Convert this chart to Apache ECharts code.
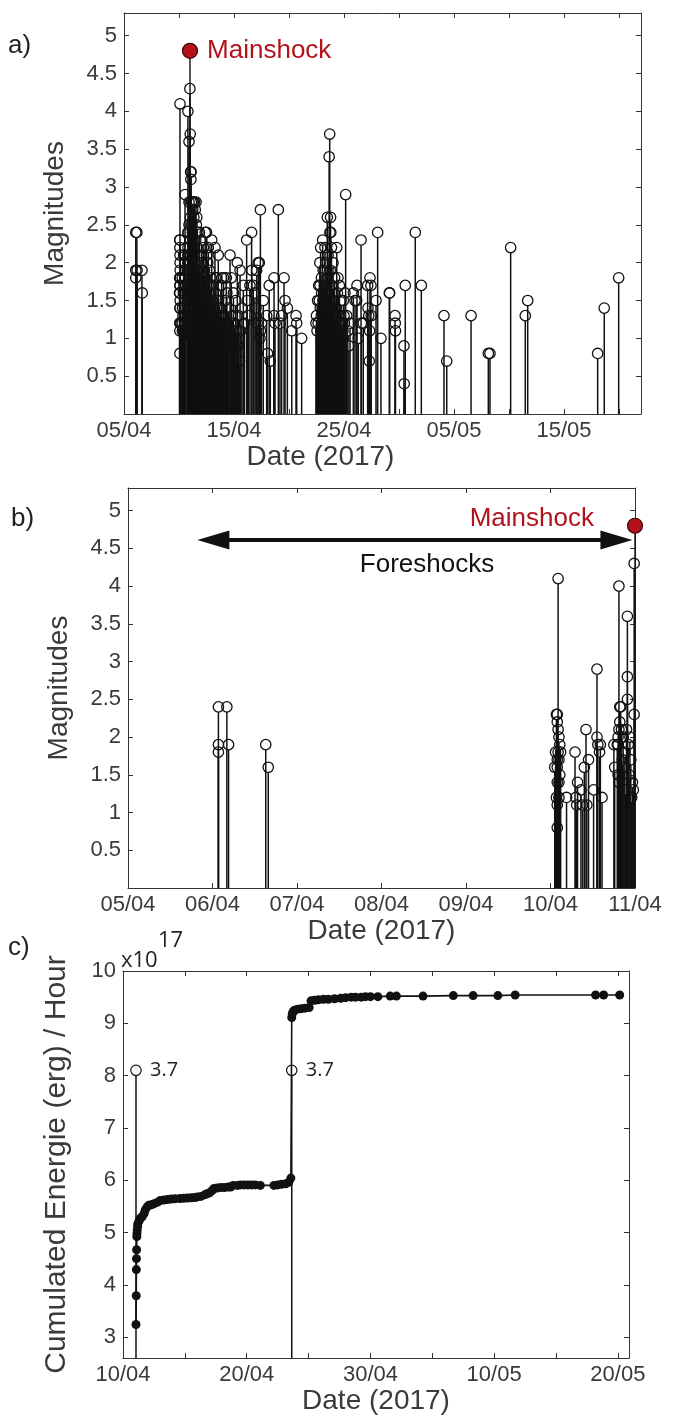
<!DOCTYPE html>
<html><head><meta charset="utf-8">
<script src="https://cdn.jsdelivr.net/npm/echarts@6/dist/echarts.min.js"></script>
<style>html,body{margin:0;padding:0;background:#fff}#chart{width:673px;height:1416px}</style>
</head><body><div id="chart"></div>
<script>
// ---------- DATA ----------
// Day numbers are counted from 1 April 2017 (05/04 = 5, 01/05 = 31 ...)
const quakeDay = [
  6.07,6.07,6.07,6.17,6.19,6.63,6.66,
  10.09,10.07,10.08,10.08,10.09,10.10,10.06,10.09,10.12,10.05,10.08,10.08,10.10,10.11,10.08,10.10,10.07,10.10,10.08,10.08,10.11,
  10.19,10.29,10.30,10.31,10.32,10.36,10.38,10.40,10.42,10.43,10.45,10.51,10.55,10.55,10.56,10.58,10.59,10.61,
  10.75,10.76,10.79,10.81,10.82,10.83,10.82,10.81,10.80,10.80,10.81,10.80,10.84,10.85,10.86,10.87,10.88,10.89,10.90,
  10.91,10.91,10.91,10.92,10.93,10.94,10.95,10.96,10.97,10.98,10.99,10.99,
  11.02,11.06,11.10,11.08,11.04,11.12,11.20,11.30,11.42,11.55,11.25,11.48,11.62,11.35,11.15,11.58,11.72,11.22,11.85,
  11.52,11.05,12.05,11.32,11.66,12.22,11.10,11.40,11.92,12.52,11.23,11.76,12.12,12.62,11.16,11.36,11.61,12.31,12.76,
  11.07,11.46,11.86,12.42,12.92,11.28,11.56,12.06,12.66,13.12,11.13,11.38,11.70,12.26,12.82,13.32,11.18,11.49,11.96,
  12.46,13.02,13.52,11.09,11.33,11.63,12.16,12.72,13.22,13.72,11.26,11.53,11.91,12.36,12.86,13.42,13.92,11.43,11.79,
  12.56,13.06,13.62,11.21,11.69,12.21,12.96,13.82,11.59,12.61,13.36,12.11,13.16,11.82,12.38,12.50,12.97,12.66,13.27,
  13.57,13.45,13.85,13.30,13.88,14.05,14.20,14.30,14.35,14.50,14.64,14.75,14.85,14.95,15.05,15.15,15.30,15.40,15.50,
  15.55,15.62,15.72,15.85,15.95,16.15,16.20,16.30,16.45,16.60,16.62,16.75,16.90,17.00,17.06,17.10,17.30,17.20,17.36,
  17.40,17.50,17.66,17.40,17.97,18.05,18.20,18.30,18.64,18.62,18.73,19.03,19.18,19.33,19.55,19.64,19.85,20.25,20.64,
  20.70,21.15,
  22.45,22.60,22.70,22.75,22.80,22.82,22.88,22.95,22.97,23.02,23.06,23.10,23.15,23.20,23.27,23.30,23.35,23.40,23.45,
  23.48,23.52,23.55,23.60,23.65,23.70,23.72,23.75,23.78,23.80,23.83,23.86,23.90,23.95,24.00,24.05,24.10,24.15,24.20,
  24.28,24.34,24.40,24.45,24.50,24.58,24.65,24.72,24.80,24.88,24.94,25.00,25.09,25.15,25.25,25.35,25.45,25.55,
  25.85,26.00,26.15,26.18,26.30,26.55,26.58,26.75,27.15,27.18,27.25,27.30,27.33,27.36,27.45,27.48,27.91,28.06,28.36,
  29.12,29.15,29.64,29.66,29.68,30.45,30.47,30.57,31.48,32.03,34.09,34.34,36.55,38.12,38.27,40.15,41.48,41.70,
  48.06,48.66,49.97
];
const quakeMag = [
  2.4,1.9,1.8,2.4,1.9,1.9,1.6,
  4.1,2.3,2.3,2.2,2.1,2.0,1.8,1.8,1.8,1.6,1.6,1.7,1.7,1.5,1.4,1.4,1.2,1.2,1.1,0.8,1.9,
  1.2,1.8,1.2,1.1,1.4,1.3,1.1,1.6,2.1,1.1,1.7,1.3,2.9,2.0,1.9,1.8,1.9,1.2,
  1.9,1.6,1.9,4.0,2.4,2.4,2.2,2.1,2.0,1.9,1.4,1.5,2.1,1.7,2.0,1.6,1.8,1.3,2.1,
  3.6,2.8,2.5,1.9,1.5,2.0,1.7,1.2,1.4,1.3,2.3,4.3,
  3.7,3.2,3.2,3.1,2.6,2.8,2.8,2.8,2.8,2.8,2.7,2.7,2.6,2.6,2.5,2.5,2.4,2.4,2.4,
  2.3,2.3,2.3,2.2,2.2,2.2,2.1,2.1,2.1,2.1,2.0,2.0,2.0,2.0,1.9,1.9,1.9,1.9,1.9,
  1.8,1.8,1.8,1.8,1.8,1.7,1.7,1.7,1.7,1.7,1.6,1.6,1.6,1.6,1.6,1.6,1.5,1.5,1.5,
  1.5,1.5,1.5,1.4,1.4,1.4,1.4,1.4,1.4,1.4,1.3,1.3,1.3,1.3,1.3,1.3,1.3,1.2,1.2,
  1.2,1.2,1.2,1.1,1.1,1.1,1.1,1.1,1.0,1.0,1.0,0.9,0.9,0.8,2.4,2.4,2.3,2.2,2.2,
  2.1,1.8,1.7,1.8,1.8,1.8,1.5,1.8,1.6,1.4,2.1,1.8,1.3,1.6,1.2,1.5,2.0,1.3,0.7,
  1.9,1.1,1.4,1.7,1.2,2.3,1.5,1.3,1.7,2.4,1.9,1.7,1.6,1.4,1.9,1.2,2.0,2.0,1.0,
  2.7,1.2,1.5,1.1,1.3,0.8,1.7,0.7,1.8,1.3,1.2,2.7,1.2,1.3,1.8,1.5,1.4,1.1,1.3,
  1.2,1.0,
  1.2,1.5,1.7,1.5,2.0,1.7,2.2,1.8,1.6,1.4,2.3,1.9,1.3,1.7,2.2,1.5,2.0,1.2,1.8,
  2.6,1.4,2.1,1.6,3.4,3.7,2.4,1.9,2.6,2.4,1.1,2.2,1.7,1.3,2.0,1.5,1.0,1.8,1.2,
  1.4,2.2,1.6,1.8,0.9,1.7,1.3,1.5,1.1,1.2,1.5,1.3,1.6,2.9,1.3,1.1,0.9,1.2,
  1.6,1.5,1.5,1.7,1.0,2.3,1.2,1.2,1.7,1.4,1.3,0.7,1.1,1.8,1.7,1.3,1.5,2.4,1.0,
  1.6,1.6,1.3,1.2,1.1,0.9,0.4,1.7,2.4,1.7,1.3,0.7,1.3,0.8,0.8,2.2,1.3,1.5,
  0.8,1.4,1.8
];
// small events hidden inside the two dense swarms: [day, magnitude]
const swarmEvents = [
  [11.01,1.5],[11.03,1.2],[11.11,1.3],[11.14,1.0],[11.17,1.7],[11.19,1.2],[11.24,1.5],[11.27,1.1],[11.29,1.9],[11.31,1.2],
  [11.34,1.0],[11.37,1.4],[11.39,1.1],[11.41,1.6],[11.44,1.3],[11.47,1.0],[11.51,1.6],[11.54,1.1],[11.57,1.4],[11.60,1.2],
  [11.64,1.5],[11.67,1.3],[11.71,1.2],[11.74,1.4],[11.78,1.6],[11.81,1.1],[11.84,1.3],[11.88,1.5],[11.90,1.0],[11.94,1.2],
  [11.98,1.4],[12.01,1.1],[12.03,1.6],[12.08,1.3],[12.14,1.2],[12.18,1.5],[12.24,1.3],[12.28,1.1],[12.33,1.4],[12.40,1.2],
  [12.44,1.0],[12.48,1.3],[12.54,1.4],[12.58,1.1],[12.64,1.2],[12.69,1.5],[12.74,1.0],[12.78,1.2],[12.84,1.1],[12.89,1.4],
  [12.94,1.2],[12.99,1.3],[13.04,1.0],[13.09,1.3],[13.14,1.1],[13.19,1.2],[13.25,1.0],[13.29,1.3],[13.34,1.2],[13.39,1.1],
  [13.44,1.4],[13.48,1.0],[13.55,1.2],[13.59,1.3],[13.65,1.0],[13.69,1.2],[13.75,1.3],[13.79,0.9],[13.95,1.2],[14.00,1.0],
  [14.10,1.3],[14.15,1.1],[14.25,1.2],[14.40,1.0],[14.45,1.2],[14.55,1.1],[14.70,1.2],[14.80,1.0],[14.90,1.1],[15.00,0.9],
  [15.10,1.0],[15.20,1.1],[15.35,0.9],[15.45,1.0],
  [22.50,1.3],[22.55,1.1],[22.65,1.2],[22.85,1.4],[22.90,1.1],[22.93,1.3],[23.00,1.2],[23.04,1.0],[23.08,1.5],[23.12,1.1],
  [23.18,1.4],[23.22,1.0],[23.25,1.3],[23.32,1.1],[23.38,1.4],[23.42,1.0],[23.50,1.3],[23.58,1.2],[23.62,1.5],[23.68,1.3],
  [23.77,1.4],[23.88,1.2],[23.92,1.5],[23.98,1.1],[24.02,1.3],[24.08,1.2],[24.12,1.4],[24.18,1.0],[24.24,1.3],[24.31,1.1],
  [24.37,1.2],[24.42,1.0],[24.48,1.3],[24.54,1.1],[24.61,1.2],[24.68,1.0],[24.76,1.2],[24.84,1.0],[24.91,1.1],[24.97,1.0],
  [25.04,1.2]
];
const mainshockDay = 11.0;
const mainshockMag = 4.8;

// cumulated energy, units of 1e17 erg
const energyDay = [
  11.05,11.07,11.08,11.09,11.10,11.12,11.13,11.15,11.18,11.20,11.30,11.40,11.55,11.70,11.80,11.95,12.10,12.30,12.50,
  12.80,13.00,13.30,13.60,13.90,14.20,14.60,14.90,15.20,15.50,15.80,16.00,16.30,16.60,16.80,17.00,17.20,17.35,17.60,
  17.90,18.20,18.50,18.70,18.90,19.25,19.50,19.80,20.10,20.40,20.70,21.10,22.20,22.50,22.80,23.16,23.40,23.57,23.64,
  23.68,23.75,23.85,24.10,24.40,24.70,25.05,25.20,25.50,25.80,26.20,26.60,27.10,27.60,28.00,28.45,28.80,29.25,29.60,
  30.00,30.60,31.60,32.10,34.25,36.70,38.30,40.30,41.70,48.20,48.85,50.15
];
const energyVal = [
  3.24,3.79,4.29,4.50,4.67,4.92,4.98,5.05,5.12,5.17,5.22,5.27,5.30,5.36,5.43,5.49,5.52,5.53,5.55,
  5.58,5.61,5.62,5.63,5.64,5.645,5.65,5.655,5.66,5.665,5.67,5.68,5.69,5.72,5.74,5.76,5.80,5.84,5.85,
  5.86,5.86,5.87,5.87,5.90,5.90,5.91,5.91,5.91,5.91,5.91,5.90,5.90,5.91,5.92,5.93,5.96,6.04,9.11,
  9.18,9.22,9.25,9.27,9.28,9.29,9.30,9.43,9.44,9.45,9.46,9.46,9.47,9.48,9.49,9.50,9.50,9.50,9.51,
  9.51,9.51,9.52,9.52,9.52,9.53,9.53,9.53,9.54,9.54,9.54,9.54
];
const energyStemDay = [11.05, 23.64];
const energyStemVal = [8.1, 8.1];
const energyStemLabel = ['3.7', '3.7'];

const magTicks = [0.5,1,1.5,2,2.5,3,3.5,4,4.5,5];
const dayTicksA = [5,10,15,20,25,30,35,40,45,50];
const dayLabelsA = [5,15,25,35,45];
const dayTicksB = [5,6,7,8,9,10,11];
const dayTicksC = [10,15,20,25,30,35,40,45,50];
const dayLabelsC = [10,20,30,40,50];
const energyTicks = [3,4,5,6,7,8,9,10];

// ---------- CHART ----------
const FONT = '"Liberation Sans", Arial, Helvetica, sans-serif';
const AXC = '#333';
const LBC = '#3a3a3a';
const RED = '#b3121b';
function pad(n){ return (n<10?'0':'')+n; }
function dayLabel(v){ const r=Math.round(v); return r<=30 ? pad(r)+'/04' : pad(r-30)+'/05'; }

function xAx(grid, min, max, ticks, labels, pos, namePad){
  const bottom = pos==='bottom';
  return {
    type:'value', gridIndex:grid, min:min, max:max, position:pos,
    name: bottom ? 'Date (2017)' : '', nameLocation:'middle', nameGap:29,
    nameTextStyle:{fontSize:28, color:LBC, fontFamily:FONT, padding:namePad||0},
    splitLine:{show:false},
    axisLine:{show:true, onZero:false, lineStyle:{color:AXC, width:1}},
    axisTick:{show:true, inside:true, length:5, customValues:ticks, lineStyle:{color:AXC}},
    axisLabel:{show:bottom, customValues:labels, formatter:dayLabel, fontSize:22, color:LBC, fontFamily:FONT, margin:6}
  };
}
function yAx(grid, min, max, ticks, pos, name, nameGap, fmt, nameSize){
  const left = pos==='left';
  return {
    type:'value', gridIndex:grid, min:min, max:max, position:pos,
    name: left ? name : '', nameLocation:'middle', nameGap:nameGap,
    nameTextStyle:{fontSize:nameSize||28, color:LBC, fontFamily:FONT},
    splitLine:{show:false},
    axisLine:{show:true, onZero:false, lineStyle:{color:AXC, width:1}},
    axisTick:{show:true, inside:true, length:5, customValues:ticks, lineStyle:{color:AXC}},
    axisLabel:{show:left, customValues:ticks, formatter:fmt, fontSize:22, color:LBC, fontFamily:FONT, margin:7}
  };
}

const R = 5.2;
function stemItem(params, api){
  const x = api.value(0), m = api.value(1);
  const p0 = api.coord([x, 0]);
  const p1 = api.coord([x, m]);
  return {type:'group', children:[
    {type:'line', shape:{x1:p0[0], y1:p0[1], x2:p1[0], y2:p1[1]+R}, style:{stroke:'#111', lineWidth:1.5}},
    {type:'circle', shape:{cx:p1[0], cy:p1[1], r:R}, style:{fill:'none', stroke:'#111', lineWidth:1.3}}
  ]};
}
function mainStem(params, api){
  const x = api.value(0), m = api.value(1);
  const p0 = api.coord([x, 0]);
  const p1 = api.coord([x, m]);
  return {type:'line', shape:{x1:p0[0], y1:p0[1], x2:p1[0], y2:p1[1]}, style:{stroke:'#111', lineWidth:1.4}};
}
const ENERGY_MIN = 2.6;
function energyStem(params, api){
  const x = api.value(0), v = api.value(1);
  const p0 = api.coord([x, ENERGY_MIN]);
  const p1 = api.coord([x, v]);
  return {type:'group', children:[
    {type:'line', shape:{x1:p0[0], y1:p0[1], x2:p1[0], y2:p1[1]+R}, style:{stroke:'#111', lineWidth:1.5}},
    {type:'circle', shape:{cx:p1[0], cy:p1[1], r:R}, style:{fill:'#fff', stroke:'#111', lineWidth:1.2}},
    {type:'text', x:p1[0]+14, y:p1[1], style:{text:energyStemLabel[params.dataIndex], fontSize:20, fill:'#222', fontFamily:'"Open Sans", '+FONT, verticalAlign:'middle', align:'left'}}
  ]};
}

const allA = quakeDay.map((d,i)=>[d, quakeMag[i]]).concat(swarmEvents).sort((p,q)=>p[0]-q[0]);
const allB = allA.filter(p => p[0] >= 5 && p[0] <= 11);
const mainPt = [[mainshockDay, mainshockMag]];
const energyPts = energyDay.map((d,i)=>[d, energyVal[i]]);
const energyStems = energyStemDay.map((d,i)=>[d, energyStemVal[i]]);
const magFmt = v => (Math.abs(v-Math.round(v))<1e-6 ? String(Math.round(v)) : String(v));

const option = {
  backgroundColor:'#fff',
  animation:false,
  grid:[
    {left:124, top:13, width:517, height:401},
    {left:128, top:488, width:507, height:400},
    {left:123, top:971, width:506, height:387}
  ],
  xAxis:[
    xAx(0,5,52,dayTicksA,dayLabelsA,'bottom',[0,124,0,0]),
    xAx(0,5,52,dayTicksA,dayLabelsA,'top'),
    xAx(1,5,11,dayTicksB,dayTicksB,'bottom'),
    xAx(1,5,11,dayTicksB,dayTicksB,'top'),
    xAx(2,10,50.9,dayTicksC,dayLabelsC,'bottom'),
    xAx(2,10,50.9,dayTicksC,dayLabelsC,'top')
  ],
  yAxis:[
    yAx(0,0,5.3,magTicks,'left','Magnitudes',55,magFmt),
    yAx(0,0,5.3,magTicks,'right','',0,magFmt),
    yAx(1,0,5.3,magTicks,'left','Magnitudes',55,magFmt),
    yAx(1,0,5.3,magTicks,'right','',0,magFmt),
    yAx(2,ENERGY_MIN,10,energyTicks,'left','Cumulated Energie (erg) / Hour',51,magFmt,30),
    yAx(2,ENERGY_MIN,10,energyTicks,'right','',0,magFmt)
  ],
  series:[
    {type:'custom', xAxisIndex:0, yAxisIndex:0, data:allA, encode:{x:0,y:1}, renderItem:stemItem, silent:true, clip:false},
    {type:'custom', xAxisIndex:0, yAxisIndex:0, data:mainPt, encode:{x:0,y:1}, renderItem:mainStem, silent:true, clip:false},
    {type:'scatter', xAxisIndex:0, yAxisIndex:0, data:mainPt, symbol:'circle', symbolSize:15, clip:false, silent:true, z:5,
      itemStyle:{color:RED, borderColor:'#3a0707', borderWidth:1.2, opacity:1},
      label:{show:true, position:'right', distance:9, formatter:'Mainshock', color:RED, fontSize:26, fontFamily:FONT}},
    {type:'custom', xAxisIndex:2, yAxisIndex:2, data:allB, encode:{x:0,y:1}, renderItem:stemItem, silent:true, clip:false},
    {type:'custom', xAxisIndex:2, yAxisIndex:2, data:mainPt, encode:{x:0,y:1}, renderItem:mainStem, silent:true, clip:false},
    {type:'scatter', xAxisIndex:2, yAxisIndex:2, data:mainPt, symbol:'circle', symbolSize:15, clip:false, silent:true, z:5,
      itemStyle:{color:RED, borderColor:'#3a0707', borderWidth:1.2, opacity:1},
      label:{show:true, position:'left', distance:33, offset:[0,-7], formatter:'Mainshock', color:RED, fontSize:26, fontFamily:FONT},
      markLine:{silent:true, symbol:['triangle','triangle'], symbolSize:[19,32], label:{show:false},
        lineStyle:{color:'#111', width:4, type:'solid', opacity:1},
        data:[[{coord:[6.01,4.61]},{coord:[10.78,4.61]}]]}},
    {type:'line', xAxisIndex:4, yAxisIndex:4, data:energyPts, symbol:'circle', symbolSize:9, showSymbol:true, silent:true,
      itemStyle:{color:'#111', opacity:1}, lineStyle:{color:'#111', width:1.6}},
    {type:'custom', xAxisIndex:4, yAxisIndex:4, data:energyStems, encode:{x:0,y:1}, renderItem:energyStem, silent:true, clip:false}
  ],
  graphic:[
    {type:'text', x:8, y:46, style:{text:'a)', fontSize:26, fill:'#222', fontFamily:FONT, verticalAlign:'middle'}},
    {type:'text', x:11, y:519, style:{text:'b)', fontSize:26, fill:'#222', fontFamily:FONT, verticalAlign:'middle'}},
    {type:'text', x:8, y:948, style:{text:'c)', fontSize:26, fill:'#222', fontFamily:FONT, verticalAlign:'middle'}},
    {type:'text', x:427, y:565, style:{text:'Foreshocks', fontSize:26, fill:'#111', fontFamily:FONT, align:'center', verticalAlign:'middle'}},
    {type:'text', x:121, y:961, style:{text:'x10', fontSize:22, fill:'#222', fontFamily:'"Open Sans", '+FONT, verticalAlign:'middle'}},
    {type:'text', x:158, y:941, style:{text:'17', fontSize:22, fill:'#222', fontFamily:'"Open Sans", '+FONT, verticalAlign:'middle'}}
  ]
};
const chart = echarts.init(document.getElementById('chart'), null, {renderer:'canvas'});
chart.setOption(option);
</script></body></html>
